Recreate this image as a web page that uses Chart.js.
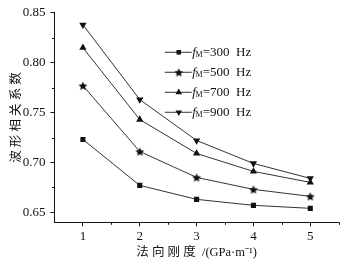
<!DOCTYPE html>
<html><head><meta charset="utf-8">
<script src="https://cdn.jsdelivr.net/npm/chart.js@4/dist/chart.umd.min.js"></script>
<style>html,body{margin:0;padding:0;background:#fff}#w{width:353px;height:261px}</style>
</head><body><div id="w"><canvas id="c"></canvas></div>
<script>
const categories = [1, 2, 3, 4, 5];
const f300 = [0.723, 0.677, 0.663, 0.657, 0.654];
const f500 = [0.777, 0.711, 0.685, 0.673, 0.666];
const f700 = [0.815, 0.743, 0.709, 0.691, 0.680];
const f900 = [0.838, 0.763, 0.722, 0.699, 0.684];
const seriesValues = [f300, f500, f700, f900];
const seriesFreq = ['300', '500', '700', '900'];
const yTicks = [0.65, 0.70, 0.75, 0.80, 0.85];
const yMinor = [0.675, 0.725, 0.775, 0.825];
const xTicks = [1, 2, 3, 4, 5];
const xMinor = [1.5, 2.5, 3.5, 4.5, 5.5];
const yTitle = '波 形 相 关 系 数';
const xTitle = '法 向 刚 度  /(GPa·m⁻¹)';

const SERIF = '"Liberation Serif", "Noto Sans CJK SC", serif';
const ink = '#111';

function starCanvas(r) {
  const s = Math.ceil(r * 2 + 2);
  const cv = document.createElement('canvas');
  cv.width = s; cv.height = s;
  const g = cv.getContext('2d');
  g.fillStyle = ink;
  g.beginPath();
  for (let i = 0; i < 10; i++) {
    const rr = i % 2 === 0 ? r : r * 0.48;
    const a = -Math.PI / 2 + i * Math.PI / 5;
    const px = s / 2 + rr * Math.cos(a), py = s / 2 + 0.5 + rr * Math.sin(a);
    if (i === 0) g.moveTo(px, py); else g.lineTo(px, py);
  }
  g.closePath(); g.fill();
  return cv;
}
const star = starCanvas(4.6);
const styles = [
  {pointStyle: 'rect', radius: 3.6, rotation: 0},
  {pointStyle: star, radius: 4.6, rotation: 0},
  {pointStyle: 'triangle', radius: 4.2, rotation: 0},
  {pointStyle: 'triangle', radius: 4.2, rotation: 180},
];

const datasets = seriesValues.map((vals, i) => ({
  label: 'fM=' + seriesFreq[i] + ' Hz',
  data: categories.map((x, j) => ({x: x, y: vals[j]})),
  borderColor: '#333',
  borderWidth: 1,
  backgroundColor: ink,
  pointBackgroundColor: ink,
  pointBorderColor: ink,
  pointBorderWidth: 0,
  pointStyle: styles[i].pointStyle,
  pointRadius: styles[i].radius,
  pointRotation: styles[i].rotation,
  pointHoverRadius: styles[i].radius,
  tension: 0
}));

const minorAndLegend = {
  id: 'minorAndLegend',
  afterDraw(chart) {
    const ctx = chart.ctx;
    const xs = chart.scales.x, ys = chart.scales.y;
    const ca = chart.chartArea;
    ctx.save();
    ctx.strokeStyle = ink; ctx.lineWidth = 1;
    ctx.beginPath();
    yMinor.forEach(v => {
      const p = Math.round(ys.getPixelForValue(v)) + 0.5;
      ctx.moveTo(ca.left, p); ctx.lineTo(ca.left - 2.5, p);
    });
    xMinor.forEach(v => {
      const p = Math.round(xs.getPixelForValue(v)) + 0.5;
      ctx.moveTo(p, ca.bottom); ctx.lineTo(p, ca.bottom + 2.5);
    });
    ctx.stroke();

    // legend
    const lx = ca.left + 0.388 * (ca.right - ca.left);
    const ly0 = ca.top + 0.186 * (ca.bottom - ca.top);
    const dy = 20;
    seriesFreq.forEach((f, i) => {
      const y = ly0 + i * dy;
      ctx.strokeStyle = '#333'; ctx.lineWidth = 1;
      ctx.beginPath(); ctx.moveTo(lx, y + 0.5); ctx.lineTo(lx + 27, y + 0.5); ctx.stroke();
      ctx.fillStyle = ink; ctx.strokeStyle = ink;
      Chart.helpers.drawPoint(ctx, {pointStyle: styles[i].pointStyle, radius: styles[i].radius * 0.9, rotation: styles[i].rotation, borderWidth: 0}, lx + 14, y + 0.5);
      ctx.fillStyle = ink;
      ctx.textBaseline = 'middle';
      let x = lx + 27.5;
      ctx.font = 'italic 13px "Liberation Serif"';
      ctx.fillText('f', x, y + 1);
      x += ctx.measureText('f').width - 0.3;
      ctx.font = '8px "Liberation Serif"';
      ctx.fillText('M', x, y + 3.5);
      x += ctx.measureText('M').width;
      ctx.font = '13px "Liberation Serif"';
      ctx.fillText('=' + f + '  Hz', x, y + 1);
    });
    ctx.restore();
  }
};

new Chart(document.getElementById('c'), {
  type: 'line',
  data: {datasets},
  options: {
    responsive: true, maintainAspectRatio: false, animation: false,
    layout: {padding: {left: 0, right: 14.3, top: 10.7, bottom: 0}},
    plugins: {legend: {display: false}, tooltip: {enabled: false}},
    scales: {
      x: {
        type: 'linear', min: 0.5, max: 5.5,
        afterBuildTicks: s => { s.ticks = xTicks.map(v => ({value: v})); },
        afterFit: s => { s.height = 261 - 222.3; },
        grid: {drawOnChartArea: false, drawTicks: true, tickLength: 4, color: ink, tickColor: ink},
        border: {display: true, color: ink, width: 1},
        ticks: {color: ink, padding: 2, font: {family: SERIF, size: 13}, callback: v => String(v), maxRotation: 0},
        title: {display: true, text: xTitle, color: ink, font: {family: SERIF, size: 12.5}, padding: {top: 0, bottom: 1}}
      },
      y: {
        type: 'linear', min: 0.64, max: 0.85,
        afterBuildTicks: s => { s.ticks = yTicks.map(v => ({value: v})); },
        afterFit: s => { s.width = 54.5; },
        grid: {drawOnChartArea: false, drawTicks: true, tickLength: 4, color: ink, tickColor: ink},
        border: {display: true, color: ink, width: 1},
        ticks: {color: ink, padding: 5, font: {family: SERIF, size: 13}, callback: v => v.toFixed(2)},
        title: {display: true, text: yTitle, color: ink, font: {family: SERIF, size: 12.5}, padding: {top: 9, bottom: 0}}
      }
    }
  },
  plugins: [minorAndLegend]
});
</script>
</body></html>
